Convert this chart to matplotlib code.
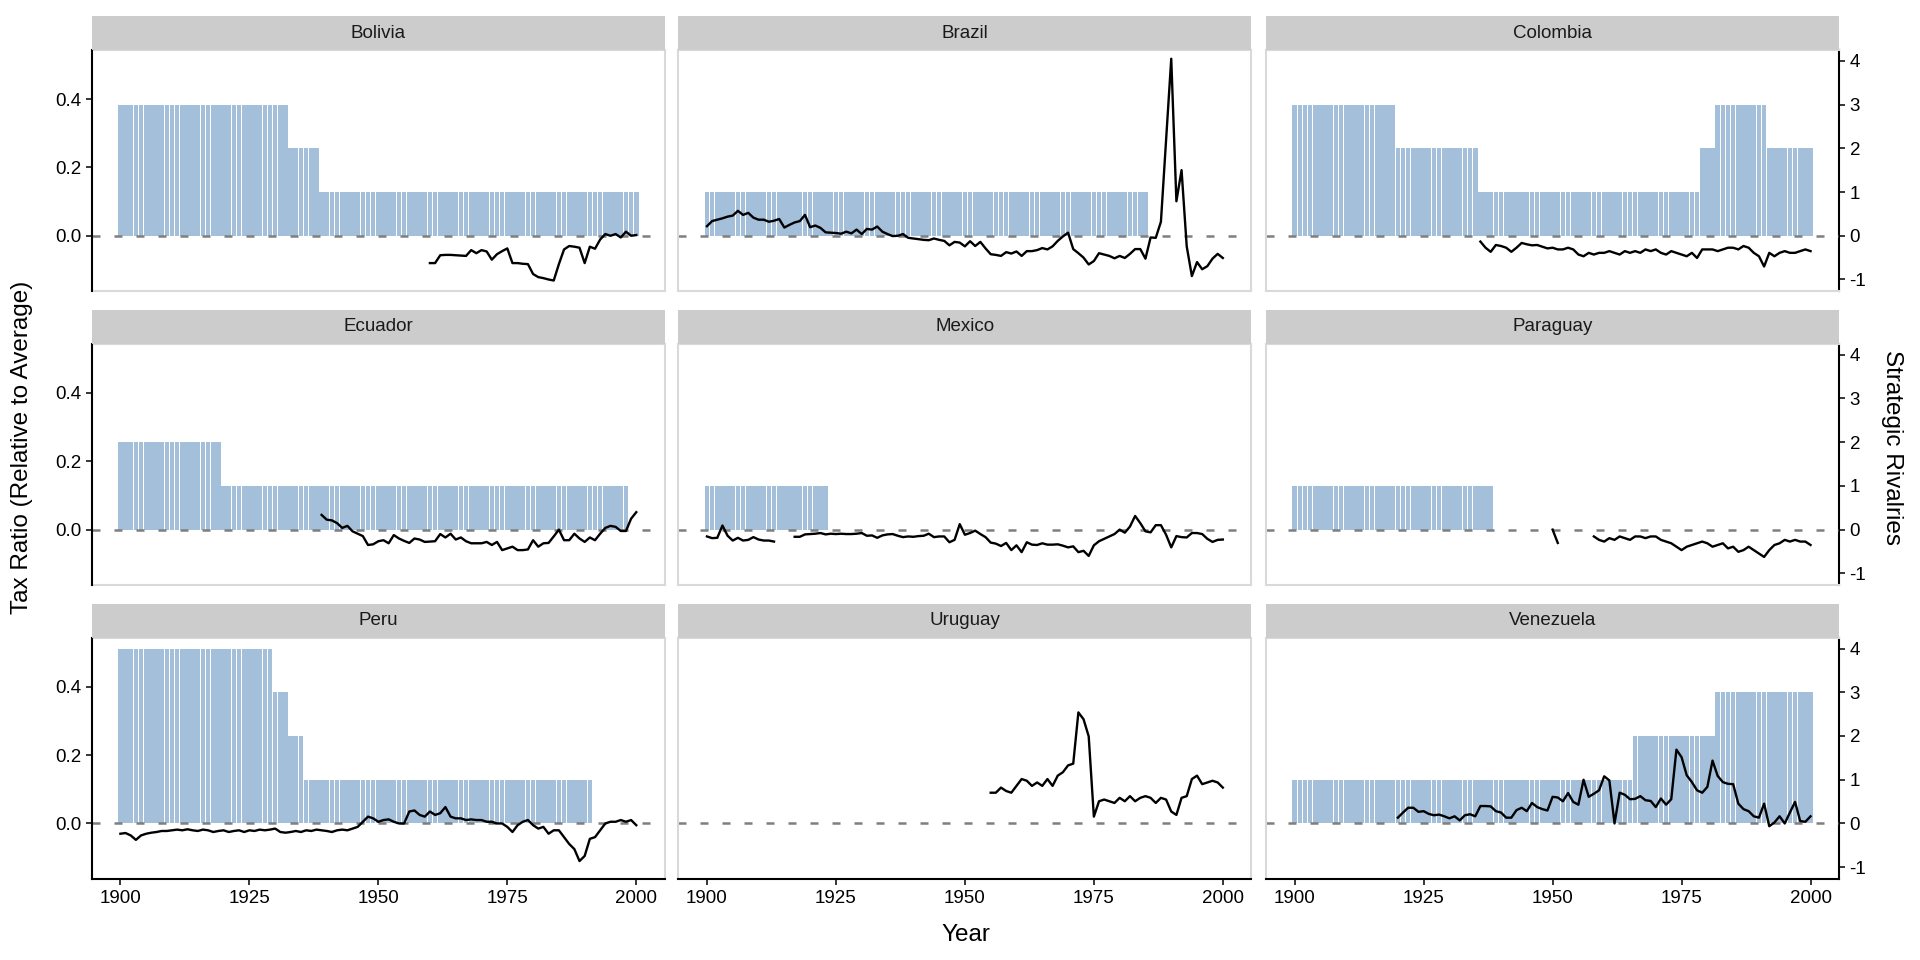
import numpy as np
import matplotlib.pyplot as plt
from matplotlib.ticker import FuncFormatter

plt.rcParams['font.family'] = ['Liberation Sans', 'DejaVu Sans']
plt.rcParams['axes.unicode_minus'] = False

# facet order
countries = ["Bolivia", "Brazil", "Colombia", "Ecuador", "Mexico",
             "Paraguay", "Peru", "Uruguay", "Venezuela"]

# strategic rivalries, stored as runs: level held until end year (from 1900)
bolivia_riv_levels = [3, 2, 1]
bolivia_riv_ends = [1932, 1938, 2000]
brazil_riv_levels = [1]
brazil_riv_ends = [1985]
colombia_riv_levels = [3, 2, 1, 2, 3, 2]
colombia_riv_ends = [1919, 1935, 1978, 1981, 1991, 2000]
ecuador_riv_levels = [2, 1]
ecuador_riv_ends = [1919, 1998]
mexico_riv_levels = [1]
mexico_riv_ends = [1923]
paraguay_riv_levels = [1]
paraguay_riv_ends = [1938]
peru_riv_levels = [4, 3, 2, 1]
peru_riv_ends = [1929, 1932, 1935, 1991]
uruguay_riv_levels = []
uruguay_riv_ends = []
venezuela_riv_levels = [1, 2, 3]
venezuela_riv_ends = [1965, 1981, 2000]

# tax ratio relative to average, one value per year from the start year (None = missing)
bolivia_tax_start = 1960
bolivia_tax = [-0.080, -0.080, -0.057, -0.056, -0.056, -0.057, -0.058, -0.059, -0.042, -0.051,
               -0.042, -0.046, -0.070, -0.054, -0.045, -0.037, -0.080, -0.080, -0.082, -0.083,
               -0.112, -0.121, -0.124, -0.128, -0.131, -0.083, -0.040, -0.030, -0.032, -0.035,
               -0.080, -0.032, -0.038, -0.011, 0.005, 0.000, 0.005, -0.005, 0.012, 0.000, 0.002]

brazil_tax_start = 1900
brazil_tax = [0.028, 0.043, 0.047, 0.051, 0.056, 0.059, 0.073, 0.061, 0.067, 0.053,
              0.047, 0.047, 0.041, 0.044, 0.049, 0.024, 0.032, 0.039, 0.043, 0.061,
              0.025, 0.030, 0.023, 0.010, 0.009, 0.008, 0.006, 0.012, 0.007, 0.018,
              0.005, 0.020, 0.018, 0.027, 0.012, 0.005, -0.001, 0.000, 0.005, -0.006,
              -0.008, -0.010, -0.012, -0.013, -0.008, -0.012, -0.015, -0.028, -0.018, -0.020,
              -0.031, -0.016, -0.030, -0.018, -0.037, -0.054, -0.056, -0.059, -0.048, -0.052,
              -0.046, -0.059, -0.045, -0.045, -0.042, -0.036, -0.040, -0.031, -0.015, -0.002,
              0.009, -0.039, -0.051, -0.064, -0.084, -0.074, -0.051, -0.055, -0.059, -0.066,
              -0.059, -0.065, -0.053, -0.039, -0.039, -0.067, -0.005, -0.006, 0.041, 0.280,
              0.518, 0.101, 0.192, -0.031, -0.118, -0.077, -0.098, -0.089, -0.067, -0.053,
              -0.065]

colombia_tax_start = 1936
colombia_tax = [-0.017, -0.035, -0.047, -0.027, -0.030, -0.035, -0.047, -0.035, -0.021, -0.025,
                -0.028, -0.027, -0.032, -0.037, -0.035, -0.040, -0.040, -0.035, -0.040, -0.055,
                -0.060, -0.050, -0.055, -0.050, -0.050, -0.045, -0.050, -0.055, -0.045, -0.050,
                -0.045, -0.050, -0.040, -0.045, -0.040, -0.050, -0.055, -0.045, -0.050, -0.055,
                -0.060, -0.050, -0.065, -0.040, -0.040, -0.040, -0.045, -0.040, -0.035, -0.035,
                -0.040, -0.030, -0.035, -0.050, -0.060, -0.090, -0.050, -0.060, -0.050, -0.045,
                -0.050, -0.050, -0.045, -0.040, -0.045]

ecuador_tax_start = 1939
ecuador_tax = [0.043, 0.029, 0.027, 0.019, 0.005, 0.011, -0.005, -0.012, -0.019, -0.045,
               -0.043, -0.034, -0.031, -0.040, -0.016, -0.026, -0.033, -0.039, -0.026, -0.029,
               -0.036, -0.035, -0.034, -0.013, -0.023, -0.012, -0.029, -0.023, -0.034, -0.040,
               -0.040, -0.040, -0.036, -0.045, -0.036, -0.060, -0.055, -0.050, -0.060, -0.060,
               -0.058, -0.031, -0.050, -0.040, -0.039, -0.020, 0.000, -0.031, -0.031, -0.012,
               -0.026, -0.036, -0.023, -0.031, -0.012, 0.005, 0.011, 0.008, -0.004, -0.004,
               0.032, 0.051]

mexico_tax_start = 1900
mexico_tax = [-0.020, -0.025, -0.024, 0.012, -0.018, -0.032, -0.024, -0.032, -0.030, -0.022,
              -0.029, -0.032, -0.032, -0.035, None, None, None, -0.021, -0.021, -0.014,
              -0.013, -0.012, -0.010, -0.014, -0.012, -0.013, -0.012, -0.013, -0.013, -0.012,
              -0.010, -0.018, -0.017, -0.024, -0.017, -0.014, -0.013, -0.018, -0.022, -0.020,
              -0.021, -0.019, -0.018, -0.012, -0.022, -0.020, -0.020, -0.037, -0.030, 0.016,
              -0.015, -0.010, -0.003, -0.013, -0.022, -0.038, -0.041, -0.048, -0.039, -0.060,
              -0.046, -0.066, -0.037, -0.044, -0.045, -0.040, -0.044, -0.044, -0.043, -0.047,
              -0.052, -0.049, -0.066, -0.062, -0.077, -0.046, -0.034, -0.027, -0.020, -0.013,
              0.000, -0.009, 0.009, 0.040, 0.019, -0.005, -0.008, 0.013, 0.013, -0.015,
              -0.052, -0.019, -0.022, -0.023, -0.010, -0.010, -0.013, -0.027, -0.036, -0.030,
              -0.029]

paraguay_tax_start = 1950
paraguay_tax = [0.000, -0.039, None, None, None, None, None, None, -0.020, -0.030,
                -0.035, -0.025, -0.030, -0.020, -0.025, -0.030, -0.020, -0.020, -0.025, -0.020,
                -0.020, -0.030, -0.035, -0.040, -0.050, -0.060, -0.050, -0.045, -0.040, -0.035,
                -0.040, -0.050, -0.045, -0.040, -0.055, -0.050, -0.065, -0.060, -0.050, -0.060,
                -0.070, -0.080, -0.060, -0.045, -0.040, -0.030, -0.035, -0.030, -0.035, -0.035,
                -0.045]

peru_tax_start = 1900
peru_tax = [-0.030, -0.028, -0.035, -0.048, -0.035, -0.030, -0.027, -0.025, -0.022, -0.022,
            -0.020, -0.018, -0.020, -0.017, -0.020, -0.022, -0.018, -0.020, -0.025, -0.022,
            -0.020, -0.025, -0.022, -0.020, -0.025, -0.020, -0.022, -0.018, -0.020, -0.018,
            -0.015, -0.025, -0.027, -0.025, -0.022, -0.025, -0.020, -0.022, -0.018, -0.020,
            -0.022, -0.025, -0.020, -0.018, -0.020, -0.015, -0.010, 0.005, 0.020, 0.015,
            0.005, 0.010, 0.012, 0.005, 0.000, 0.000, 0.035, 0.038, 0.025, 0.020,
            0.035, 0.025, 0.030, 0.048, 0.020, 0.015, 0.015, 0.010, 0.012, 0.010,
            0.010, 0.005, 0.005, 0.000, 0.000, -0.010, -0.025, -0.005, 0.005, 0.010,
            -0.005, -0.015, -0.010, -0.030, -0.020, -0.020, -0.040, -0.060, -0.075, -0.110,
            -0.095, -0.045, -0.040, -0.020, 0.000, 0.005, 0.005, 0.010, 0.005, 0.010,
            -0.005]

uruguay_tax_start = 1955
uruguay_tax = [0.090, 0.090, 0.105, 0.095, 0.090, 0.110, 0.130, 0.125, 0.110, 0.120,
               0.110, 0.130, 0.110, 0.140, 0.150, 0.170, 0.175, 0.325, 0.305, 0.255,
               0.020, 0.065, 0.070, 0.065, 0.060, 0.075, 0.065, 0.080, 0.065, 0.075,
               0.080, 0.075, 0.060, 0.075, 0.070, 0.035, 0.025, 0.075, 0.080, 0.130,
               0.140, 0.115, 0.120, 0.125, 0.120, 0.105]

venezuela_tax_start = 1920
venezuela_tax = [0.017, 0.032, 0.046, 0.046, 0.034, 0.036, 0.028, 0.024, 0.026, 0.021,
                 0.015, 0.021, 0.009, 0.024, 0.027, 0.021, 0.051, 0.051, 0.050, 0.036,
                 0.032, 0.017, 0.017, 0.039, 0.046, 0.036, 0.060, 0.048, 0.042, 0.038,
                 0.078, 0.076, 0.065, 0.089, 0.063, 0.055, 0.128, 0.078, 0.087, 0.097,
                 0.138, 0.126, 0.000, 0.090, 0.084, 0.071, 0.072, 0.080, 0.068, 0.066,
                 0.048, 0.073, 0.055, 0.071, 0.216, 0.194, 0.141, 0.121, 0.097, 0.090,
                 0.107, 0.184, 0.139, 0.121, 0.116, 0.115, 0.058, 0.042, 0.036, 0.021,
                 0.017, 0.058, -0.008, 0.003, 0.021, 0.000, 0.032, 0.063, 0.007, 0.005,
                 0.021]

riv_levels = [bolivia_riv_levels, brazil_riv_levels, colombia_riv_levels, ecuador_riv_levels,
              mexico_riv_levels, paraguay_riv_levels, peru_riv_levels, uruguay_riv_levels,
              venezuela_riv_levels]
riv_ends = [bolivia_riv_ends, brazil_riv_ends, colombia_riv_ends, ecuador_riv_ends,
            mexico_riv_ends, paraguay_riv_ends, peru_riv_ends, uruguay_riv_ends,
            venezuela_riv_ends]
tax_starts = [bolivia_tax_start, brazil_tax_start, colombia_tax_start, ecuador_tax_start,
              mexico_tax_start, paraguay_tax_start, peru_tax_start, uruguay_tax_start,
              venezuela_tax_start]
tax_vals = [bolivia_tax, brazil_tax, colombia_tax, ecuador_tax, mexico_tax, paraguay_tax,
            peru_tax, uruguay_tax, venezuela_tax]

# one rivalry on the right axis equals this much on the tax ratio axis
riv_scale = 0.128

bar_color = '#a3bfda'
border_gray = '#d9d9d9'
tick_fs = 13.5
title_fs = 17.5

fig = plt.figure(figsize=(19.2, 9.6), dpi=100)
lefts = [0.0478, 0.3533, 0.6594]
bottoms = [0.6964, 0.3903, 0.0842]
pw, ph = 0.2985, 0.2513
sh = 0.0357

for i, name in enumerate(countries):
    r, c = divmod(i, 3)
    ax = fig.add_axes([lefts[c], bottoms[r], pw, ph])

    # bars for rivalries
    start = 1900
    for lev, end in zip(riv_levels[i], riv_ends[i]):
        yrs = np.arange(start, end + 1)
        ax.bar(yrs, np.full(len(yrs), lev * riv_scale), width=0.9,
               color=bar_color, linewidth=0, zorder=1)
        start = end + 1

    ax.axhline(0, color='#7f7f7f', lw=1.8, ls=(0, (3.2, 5.6)), zorder=2)

    vals = np.array([np.nan if v is None else v for v in tax_vals[i]], dtype=float)
    yrs = np.arange(tax_starts[i], tax_starts[i] + len(vals))
    ax.plot(yrs, vals, color='black', lw=1.7, zorder=3)

    ax.set_xlim(1894.45, 2005.55)
    ax.set_ylim(-0.163, 0.543)
    ax.set_xticks([1900, 1925, 1950, 1975, 2000])
    ax.set_yticks([0.0, 0.2, 0.4])
    ax.yaxis.set_major_formatter(FuncFormatter(lambda v, p: f"{v:.1f}"))

    for s in ax.spines.values():
        s.set_color(border_gray)
        s.set_linewidth(1.5)
    ax.tick_params(axis='both', labelsize=tick_fs, length=4.5, width=1.1,
                   color='black', labelcolor='black', pad=3)

    if c == 0:
        ax.spines['left'].set_color('black')
        ax.spines['left'].set_linewidth(1.5)
        ax.spines['left'].set_zorder(5)
    else:
        ax.tick_params(left=False, labelleft=False)
    if r == 2:
        ax.spines['bottom'].set_color('black')
        ax.spines['bottom'].set_linewidth(1.5)
        ax.spines['bottom'].set_zorder(5)
    else:
        ax.tick_params(bottom=False, labelbottom=False)
    if c == 2:
        ax.spines['right'].set_visible(False)
        sec = ax.secondary_yaxis('right', functions=(lambda y: y / riv_scale,
                                                     lambda v: v * riv_scale))
        sec.set_yticks([-1, 0, 1, 2, 3, 4])
        sec.yaxis.set_major_formatter(FuncFormatter(lambda v, p: f"{int(round(v))}"))
        sec.spines['right'].set_color('black')
        sec.spines['right'].set_linewidth(1.5)
        sec.tick_params(labelsize=tick_fs, length=4.5, width=1.1, color='black', pad=3)

    # facet strip
    st = fig.add_axes([lefts[c], bottoms[r] + ph, pw, sh])
    st.set_facecolor('#cccccc')
    st.set_xticks([])
    st.set_yticks([])
    for s in st.spines.values():
        s.set_visible(False)
    st.text(0.5, 0.5, name, ha='center', va='center', fontsize=tick_fs, color='#1a1a1a',
            transform=st.transAxes)

fig.text(0.503, 0.026, 'Year', ha='center', va='center', fontsize=title_fs)
fig.text(0.0115, 0.534, 'Tax Ratio (Relative to Average)', ha='center', va='center',
         rotation=90, fontsize=title_fs)
fig.text(0.9855, 0.534, 'Strategic Rivalries', ha='center', va='center',
         rotation=-90, fontsize=title_fs)

fig.savefig('out.png', dpi=100, facecolor='white')
